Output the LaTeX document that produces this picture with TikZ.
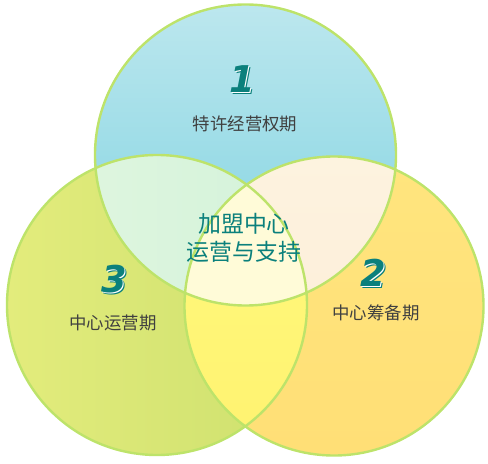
\documentclass[tikz,border=0pt]{standalone}
\usepackage{fontspec}
\newfontfamily\cjk{Noto Sans CJK SC}
\newfontfamily\digitfont{DejaVu Sans}
\usetikzlibrary{calc}
\definecolor{rimgreen}{HTML}{BDE36A}
\definecolor{topA}{HTML}{BCE7EE}
\definecolor{topB}{HTML}{7DD2E0}
\definecolor{leftA}{HTML}{E3EC7C}
\definecolor{leftB}{HTML}{CDE06E}
\definecolor{rightA}{HTML}{FFE57E}
\definecolor{rightB}{HTML}{FFDF76}
\definecolor{tlA}{HTML}{E2F7E0}
\definecolor{tlB}{HTML}{D3F2DA}
\definecolor{trA}{HTML}{FDF3DF}
\definecolor{trB}{HTML}{FCEBD6}
\definecolor{lrA}{HTML}{FFFA7E}
\definecolor{lrB}{HTML}{FFF270}
\definecolor{midfill}{HTML}{FFFBD8}
\definecolor{teal}{HTML}{0B807C}
\definecolor{labelgray}{HTML}{404040}
\tikzset{
  rim/.style={draw=rimgreen, line width=2.4bp},
  phase/.style={font=\cjk\fontsize{17.5}{19}\selectfont, text=labelgray, inner sep=0pt},
  core/.style={font=\cjk\fontsize{23}{28}\selectfont, text=teal, align=center, inner sep=0pt},
  digit/.style={font=\digitfont\bfseries\itshape\fontsize{37}{37}\selectfont, inner sep=0pt, text=teal},
}
\newcommand{\shadowdigit}[1]{%
  \makebox[0pt][l]{\kern2.6bp\raisebox{-2.3bp}{\color{teal}#1}}%
  \makebox[0pt][l]{\kern1.3bp\raisebox{-1.1bp}{\color{white}#1}}%
  #1}
\begin{document}
\begin{tikzpicture}[x=1bp,y=-1bp]
\useasboundingbox (0,0) rectangle (488,464);
\coordinate (T) at (245.5,155);
\coordinate (L) at (157,305);
\coordinate (R) at (334,306);
\def\rT{150.5}\def\rL{150}\def\rR{149.5}
% base circles
\shade[top color=topA, bottom color=topB] (T) circle (\rT);
\shade[left color=leftA, right color=leftB] (L) circle (\rL);
\shade[top color=rightA, bottom color=rightB] (R) circle (\rR);
% pairwise overlaps
\begin{scope}
  \clip (T) circle (\rT);
  \shade[left color=tlA, right color=tlB] (L) circle (\rL);
  \shade[top color=trA, bottom color=trB] (R) circle (\rR);
\end{scope}
\begin{scope}
  \clip (L) circle (\rL);
  \shade[top color=lrA, bottom color=lrB] (R) circle (\rR);
  \clip (T) circle (\rT);
  \fill[midfill] (R) circle (\rR);
\end{scope}
% outlines
\draw[rim] (T) circle (\rT);
\draw[rim] (L) circle (\rL);
\draw[rim] (R) circle (\rR);
% digits
\node[digit] (d1) at (242,80) {\shadowdigit{1}};
\node[digit] (d2) at (373,274) {\shadowdigit{2}};
\node[digit] (d3) at (114,280) {\shadowdigit{3}};
% labels
\node[phase] (p1) at (245,124) {特许经营权期};
\node[phase] (p2) at (376,313) {中心筹备期};
\node[phase] (p3) at (113,323) {中心运营期};
\node[core] (c1) at (244,224) {加盟中心};
\node[core] (c2) at (244,252) {运营与支持};
\end{tikzpicture}
\end{document}
